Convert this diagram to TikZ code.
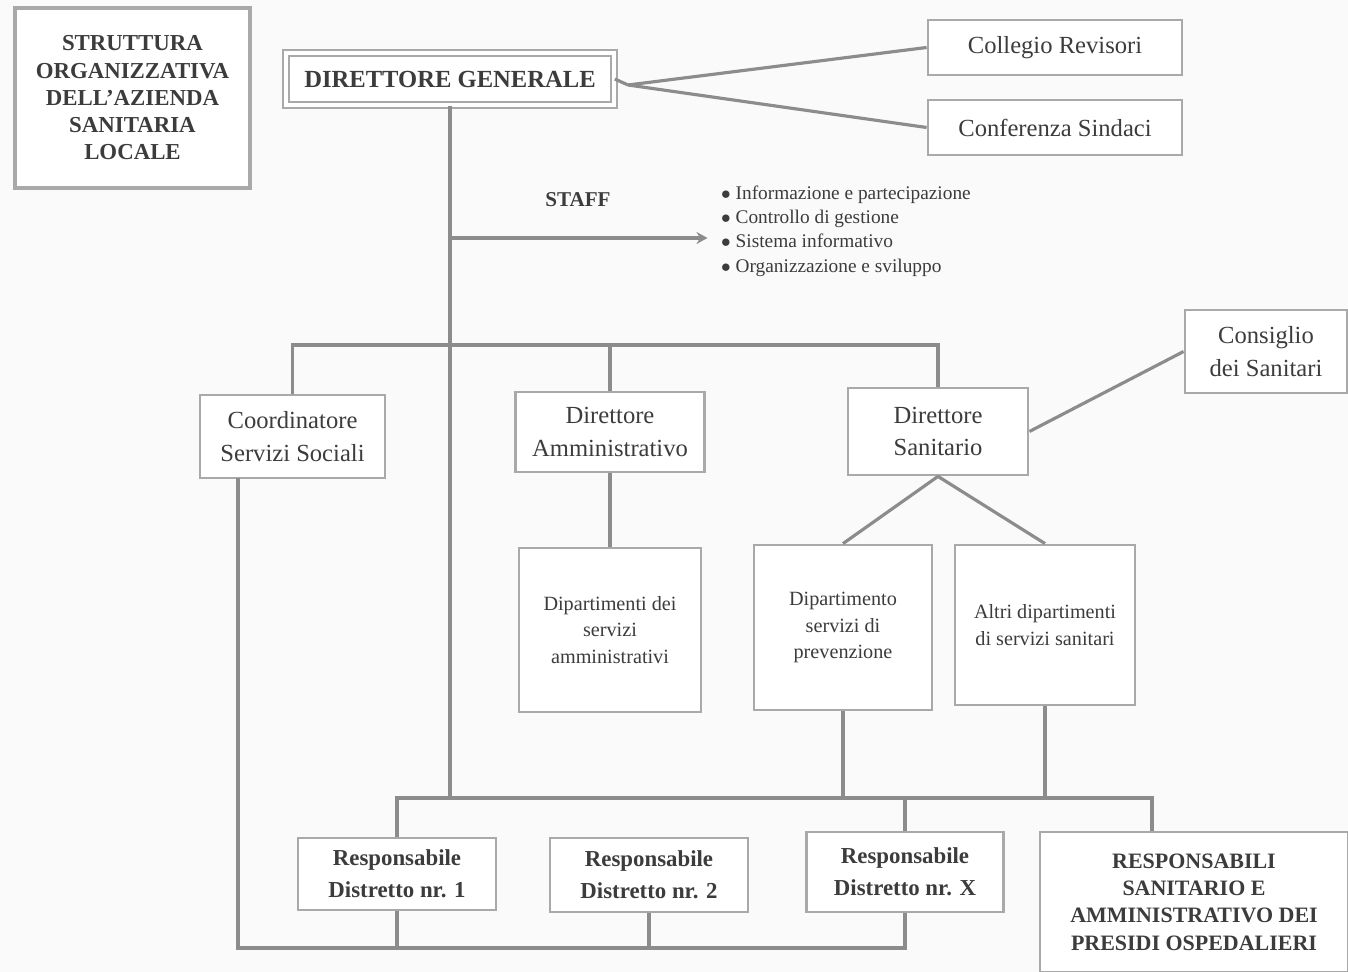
\documentclass[tikz,border=0pt]{standalone}
\usepackage{fontspec}
\setmainfont{Liberation Serif}
\usetikzlibrary{arrows.meta}
\definecolor{boxedge}{HTML}{A9A9A9}
\definecolor{lineclr}{HTML}{8C8C8C}
\definecolor{txtclr}{HTML}{3C3C3C}
\definecolor{bgfill}{HTML}{FAFAFA}

\begin{document}
\begin{tikzpicture}[
  box/.style={rectangle, draw=boxedge, line width=1.6pt, fill=white, align=center,
              text=txtclr, inner sep=2pt},
  smallbox/.style={box, font=\fontsize{11.5}{15}\selectfont},
  midbox/.style={box, font=\fontsize{14}{18.5}\selectfont},
  boldbox/.style={box, font=\fontsize{13}{18}\selectfont\bfseries},
  conn/.style={draw=lineclr, line width=1.8pt},
  lab/.style={text=txtclr, align=left},
]
\useasboundingbox[fill=bgfill] (0,0) rectangle (26.96,-19.44);
% ================= TOP: title, direttore generale, collegi ===================
\node[box, line width=2pt, minimum width=4.7cm, minimum height=3.6cm,
      font=\fontsize{13}{15.5}\selectfont\bfseries] (title) at (2.65,-1.96)
      {STRUTTURA\\ORGANIZZATIVA\\DELL'AZIENDA\\SANITARIA\\LOCALE};
\node[box, double, double distance=0.08cm, line width=1.2pt, minimum width=6.55cm,
      minimum height=1.05cm, font=\fontsize{14}{16}\selectfont\bfseries] (dg) at (9.0,-1.58)
      {DIRETTORE GENERALE};
\node[midbox, minimum width=5.08cm, minimum height=1.1cm] (collegio) at (21.1,-0.95) {Collegio Revisori};
\node[midbox, minimum width=5.08cm, minimum height=1.1cm] (conferenza) at (21.1,-2.55) {Conferenza Sindaci};
\coordinate (fan) at (12.56,-1.7);
\draw[conn] (dg.east) -- (fan);
\draw[conn] (fan) -- (collegio.west);
\draw[conn] (fan) -- (conferenza.west);
% ================= STAFF ====================================================
\coordinate (staffpt) at (9.0,-4.76);
\node[lab, font=\fontsize{12}{14}\selectfont\bfseries] (staff) at (11.56,-4.0) {STAFF};
\node[lab, anchor=west, font=\fontsize{11}{13.8}\selectfont] (stafflist) at (14.3,-4.62)
      {$\bullet$ Informazione e partecipazione\\$\bullet$ Controllo di gestione\\
       $\bullet$ Sistema informativo\\$\bullet$ Organizzazione e sviluppo};
\draw[conn, -{Stealth[length=2.2mm, width=2.4mm]}] (staffpt) -- ([xshift=-0.15cm]stafflist.west |- staffpt);
% ================= second level ==============================================
\node[midbox, minimum width=3.7cm, minimum height=1.66cm] (coord) at (5.85,-8.73) {Coordinatore\\Servizi Sociali};
\node[midbox, minimum width=3.78cm, minimum height=1.6cm] (dirAmm) at (12.2,-8.64) {Direttore\\Amministrativo};
\node[midbox, minimum width=3.6cm, minimum height=1.74cm] (dirSan) at (18.76,-8.63) {Direttore\\Sanitario};
\node[midbox, minimum width=3.24cm, minimum height=1.66cm] (consiglio) at (25.32,-7.03) {Consiglio\\dei Sanitari};
\coordinate (topbus) at (0,-6.9);
\draw[conn] (coord.north) |- (topbus -| dirSan.north) -- (dirSan.north);
\draw[conn] (dirAmm.north) -- (dirAmm.north |- topbus);
\draw[conn] (dirSan.east) -- (consiglio.west);
% ================= dipartimenti ==============================================
\node[smallbox, minimum width=3.64cm, minimum height=3.28cm] (dipAmm) at (12.2,-12.6) {Dipartimenti dei\\servizi\\amministrativi};
\node[smallbox, minimum width=3.56cm, minimum height=3.3cm] (dipPrev) at (16.86,-12.55) {Dipartimento\\servizi di\\prevenzione};
\node[smallbox, minimum width=3.6cm, minimum height=3.2cm] (altri) at (20.9,-12.5) {Altri dipartimenti\\di servizi sanitari};
\draw[conn] (dirAmm.south) -- (dipAmm.north);
\draw[conn] (dirSan.south) -- (dipPrev.north);
\draw[conn] (dirSan.south) -- (altri.north);
% ================= distretti and presidi =====================================
\node[boldbox, minimum width=3.96cm, minimum height=1.44cm] (r1) at (7.94,-17.48) {Responsabile\\Distretto nr. 1};
\node[boldbox, minimum width=3.96cm, minimum height=1.48cm] (r2) at (12.98,-17.5) {Responsabile\\Distretto nr. 2};
\node[boldbox, minimum width=3.94cm, minimum height=1.6cm] (rX) at (18.1,-17.44) {Responsabile\\Distretto nr. X};
\node[box, minimum width=6.16cm, minimum height=2.8cm,
      font=\fontsize{12.5}{15.5}\selectfont\bfseries] (presidi) at (23.88,-18.04)
      {RESPONSABILI\\SANITARIO E\\AMMINISTRATIVO DEI\\PRESIDI OSPEDALIERI};
\coordinate (botbus) at (0,-15.96);
\coordinate (botR) at (23.04,-15.96);
\coordinate (lowbus) at (0,-18.96);
\draw[conn] (dg.south) -- (dg.south |- botbus);
\draw[conn] (r1.north) |- (botR) -- (botR |- presidi.north);
\draw[conn] (rX.north) -- (rX.north |- botbus);
\draw[conn] (dipPrev.south) -- (dipPrev.south |- botbus);
\draw[conn] (altri.south) -- (altri.south |- botbus);
\coordinate (coordfoot) at (4.76,-9.56);
\draw[conn] (coordfoot) |- (lowbus -| rX.south) -- (rX.south);
\draw[conn] (r1.south) -- (r1.south |- lowbus);
\draw[conn] (r2.south) -- (r2.south |- lowbus);
\end{tikzpicture}
\end{document}
